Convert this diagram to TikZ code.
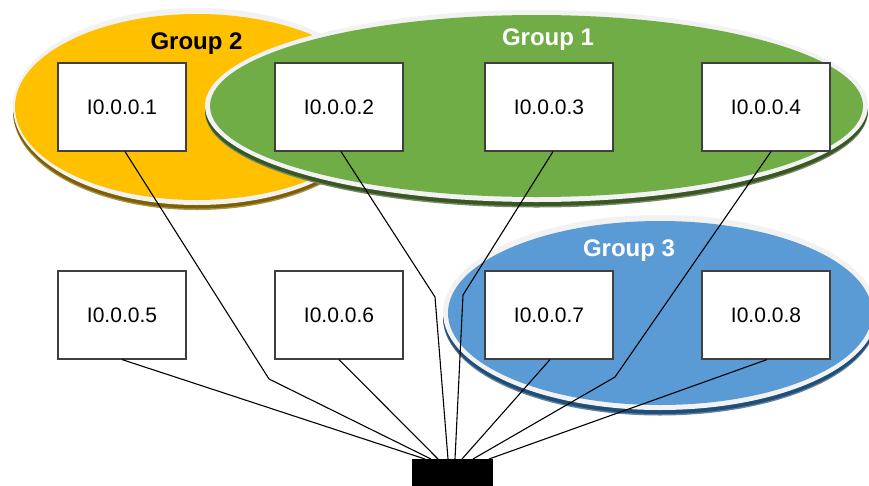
\documentclass[tikz,border=0pt]{standalone}
\usepackage{fontspec}
\setmainfont{Liberation Sans}
\definecolor{gonefill}{HTML}{70AD47}
\definecolor{goneshadow}{HTML}{385723}
\definecolor{gtwofill}{HTML}{FFC000}
\definecolor{gtwoshadow}{HTML}{7F6000}
\definecolor{gthreefill}{HTML}{5B9BD5}
\definecolor{gthreeshadow}{HTML}{1F4E79}
\definecolor{ringgray}{HTML}{F2F2F2}
\definecolor{boxborder}{HTML}{404040}
\begin{document}
\begin{tikzpicture}[x=1pt,y=-1pt,
  hostbox/.style={draw=boxborder, line width=1.1pt, fill=white, minimum width=128pt, minimum height=88pt, inner sep=0pt, font=\fontsize{21}{25}\selectfont},
  grouplabel/.style={anchor=base, inner sep=0pt, font=\fontsize{24}{28}\selectfont\bfseries},
  link/.style={draw=black, line width=1.1pt}]
\useasboundingbox (0,0) rectangle (869,485);
% Group 2
\fill[gtwoshadow!70] (197,111.5) ellipse [x radius=184pt, y radius=98.5pt];
\fill[gtwoshadow] (197,110) ellipse [x radius=184pt, y radius=98.5pt];
\fill[ringgray] (197,106.5) ellipse [x radius=184pt, y radius=98.5pt];
\fill[gtwofill] (197,107) ellipse [x radius=182pt, y radius=93pt];
% Group 1
\fill[goneshadow!70] (536.5,111.5) ellipse [x radius=331.5pt, y radius=96pt];
\fill[goneshadow] (536.5,110) ellipse [x radius=331.5pt, y radius=96pt];
\fill[ringgray] (536.5,106) ellipse [x radius=331.5pt, y radius=96pt];
\fill[gonefill] (536.5,106) ellipse [x radius=326.5pt, y radius=91pt];
% Group 3
\fill[gthreeshadow!70] (660,318) ellipse [x radius=217pt, y radius=97.5pt];
\fill[gthreeshadow] (660,316.5) ellipse [x radius=217pt, y radius=97.5pt];
\fill[ringgray] (660,312.5) ellipse [x radius=217pt, y radius=97.5pt];
\fill[gthreefill] (660,313) ellipse [x radius=212pt, y radius=92pt];
% labels
\node[grouplabel, text=black] (lab2) at (196.5,49.3) {Group 2};
\node[grouplabel, text=white] (lab1) at (548,45) {Group 1};
\node[grouplabel, text=white] (lab3) at (629,256.7) {Group 3};
% hosts
\node[hostbox] (h1) at (122,107) {I0.0.0.1};
\node[hostbox] (h2) at (339,107) {I0.0.0.2};
\node[hostbox] (h3) at (549,107) {I0.0.0.3};
\node[hostbox] (h4) at (766,107) {I0.0.0.4};
\node[hostbox] (h5) at (122,315) {I0.0.0.5};
\node[hostbox] (h6) at (339,315) {I0.0.0.6};
\node[hostbox] (h7) at (549,315) {I0.0.0.7};
\node[hostbox] (h8) at (766,315) {I0.0.0.8};
% switch
\node[fill=black, inner sep=0pt, minimum width=81pt, minimum height=30pt, anchor=north west] (sw) at (412,459) {};
% bend points and ends
\coordinate (k1) at (269,379);
\coordinate (k2) at (435,297);
\coordinate (k3) at (463,295);
\coordinate (k4) at (615,377);
\coordinate (e5) at (425,459);
\coordinate (e1) at (431,459);
\coordinate (e6) at (438,459);
\coordinate (e2) at (448,459);
\coordinate (e3) at (455,459);
\coordinate (e7) at (462,459);
\coordinate (e4) at (473,459);
\coordinate (e8) at (489,459);
\draw[link] ([xshift=3pt]h1.south) -- (k1) -- (e1);
\draw[link] ([xshift=2pt]h2.south) -- (k2) -- (e2);
\draw[link] ([xshift=4pt]h3.south) -- (k3) -- (e3);
\draw[link] ([xshift=5pt]h4.south) -- (k4) -- (e4);
\draw[link] (h5.south) -- (e5);
\draw[link] (h6.south) -- (e6);
\draw[link] ([xshift=1pt]h7.south) -- (e7);
\draw[link] ([xshift=1pt]h8.south) -- (e8);
\end{tikzpicture}
\end{document}
